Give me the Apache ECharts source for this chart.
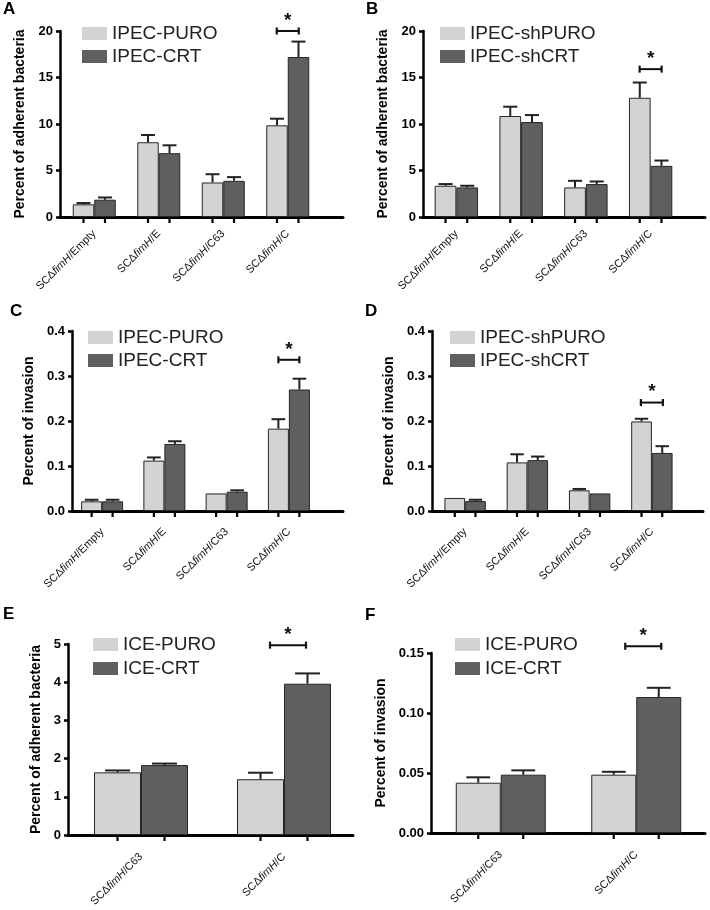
<!DOCTYPE html>
<html><head><meta charset="utf-8">
<script src="https://cdn.jsdelivr.net/npm/echarts@6/dist/echarts.min.js"></script>
<style>
html,body{margin:0;padding:0;background:#fff;}
body{width:710px;height:910px;position:relative;overflow:hidden;}
.p{position:absolute;}
</style>
</head><body>
<div id="pA" class="p" style="left:0;top:0;width:355px;height:300px"></div>
<div id="pB" class="p" style="left:355px;top:0;width:355px;height:300px"></div>
<div id="pC" class="p" style="left:0;top:300px;width:355px;height:300px"></div>
<div id="pD" class="p" style="left:355px;top:300px;width:355px;height:300px"></div>
<div id="pE" class="p" style="left:0;top:600px;width:355px;height:310px"></div>
<div id="pF" class="p" style="left:355px;top:600px;width:355px;height:310px"></div>
<script>
// ---------- DATA ----------
const catsIPEC = ['SCΔfimH/Empty', 'SCΔfimH/E', 'SCΔfimH/C63', 'SCΔfimH/C'];
const catsICE = ['SCΔfimH/C63', 'SCΔfimH/C'];

// Panel A: adherence, IPEC overexpression
const aNames = ['IPEC-PURO', 'IPEC-CRT'];
const aPuro = [1.36, 8.04, 3.71, 9.86];
const aPuroErr = [0.14, 0.78, 0.89, 0.71];
const aCrt = [1.86, 6.86, 3.89, 17.2];
const aCrtErr = [0.24, 0.85, 0.40, 1.66];
const aSig = [[3, 20.0]];
const aTicks = [0, 20, 5];

// Panel B: adherence, IPEC knockdown
const bNames = ['IPEC-shPURO', 'IPEC-shCRT'];
const bPuro = [3.36, 10.86, 3.18, 12.82];
const bPuroErr = [0.18, 1.0, 0.71, 1.64];
const bCrt = [3.18, 10.21, 3.54, 5.5];
const bCrtErr = [0.18, 0.75, 0.28, 0.57];
const bSig = [[3, 15.9]];
const bTicks = [0, 20, 5];

// Panel C: invasion, IPEC overexpression
const cNames = ['IPEC-PURO', 'IPEC-CRT'];
const cPuro = [0.0215, 0.112, 0.039, 0.183];
const cPuroErr = [0.0035, 0.007, 0, 0.021];
const cCrt = [0.0215, 0.149, 0.043, 0.270];
const cCrtErr = [0.0035, 0.006, 0.003, 0.024];
const cSig = [[3, 0.336]];
const cTicks = [0, 0.4, 0.1];

// Panel D: invasion, IPEC knockdown
const dNames = ['IPEC-shPURO', 'IPEC-shCRT'];
const dPuro = [0.029, 0.108, 0.046, 0.199];
const dPuroErr = [0, 0.018, 0.003, 0.006];
const dCrt = [0.022, 0.113, 0.039, 0.129];
const dCrtErr = [0.003, 0.008, 0, 0.015];
const dSig = [[3, 0.241]];
const dTicks = [0, 0.4, 0.1];

// Panel E: adherence, ICE
const eNames = ['ICE-PURO', 'ICE-CRT'];
const ePuro = [1.64, 1.46];
const ePuroErr = [0.05, 0.17];
const eCrt = [1.83, 3.96];
const eCrtErr = [0.04, 0.27];
const eSig = [[1, 4.97]];
const eTicks = [0, 5, 1];

// Panel F: invasion, ICE
const fNames = ['ICE-PURO', 'ICE-CRT'];
const fPuro = [0.0419, 0.0486];
const fPuroErr = [0.0045, 0.0024];
const fCrt = [0.0486, 0.1133];
const fCrtErr = [0.0036, 0.0077];
const fSig = [[1, 0.1556]];
const fTicks = [0, 0.15, 0.05];

// ---------- STYLE ----------
const FONT = '"Liberation Sans", Arial, Helvetica, sans-serif';
const LIGHT = '#d3d3d3', DARK = '#5f5f5f', EDGE = '#262626';

function errSeries(vals, errs, side, bw, capFrac) {
  return {
    type: 'custom', xAxisIndex: 1, yAxisIndex: 1, clip: false, silent: true, z: 5,
    data: vals.map((v, i) => [i, v, v + errs[i]]),
    renderItem: function (params, api) {
      const c0 = api.coord([api.value(0), api.value(1)]);
      const c1 = api.coord([api.value(0), api.value(2)]);
      const base = api.coord([api.value(0), 0]);
      const x = c0[0] + side * bw / 2;
      const hw = bw * capFrac / 2;
      const ch = [{ type: 'line', shape: { x1: x, y1: base[1] + 1, x2: x, y2: base[1] + 6 }, style: { stroke: '#000', lineWidth: 2.2 } }];
      if (api.value(2) > api.value(1)) {
        ch.push({ type: 'line', shape: { x1: x, y1: c0[1], x2: x, y2: c1[1] }, style: { stroke: '#222', lineWidth: 2 } });
        ch.push({ type: 'line', shape: { x1: x - hw, y1: c1[1], x2: x + hw, y2: c1[1] }, style: { stroke: '#222', lineWidth: 2 } });
      }
      return { type: 'group', children: ch };
    }
  };
}

function sigSeries(sig, hw, dx) {
  return {
    type: 'custom', xAxisIndex: 1, yAxisIndex: 1, clip: false, silent: true, z: 6,
    data: sig,
    renderItem: function (params, api) {
      const p = api.coord([api.value(0), api.value(1)]);
      const x = p[0] + dx, y = p[1];
      return { type: 'group', children: [
        { type: 'line', shape: { x1: x - hw, y1: y, x2: x + hw, y2: y }, style: { stroke: '#111', lineWidth: 2 } },
        { type: 'line', shape: { x1: x - hw, y1: y - 3.5, x2: x - hw, y2: y + 3.5 }, style: { stroke: '#111', lineWidth: 2.2 } },
        { type: 'line', shape: { x1: x + hw, y1: y - 3.5, x2: x + hw, y2: y + 3.5 }, style: { stroke: '#111', lineWidth: 2.2 } },
        { type: 'text', style: { x: x, y: y - 1, text: '*', fill: '#111', font: 'bold 19px ' + FONT, textAlign: 'center', textVerticalAlign: 'bottom' } }
      ]};
    }
  };
}

function catLabel(v) {
  const p = v.split('fimH');
  return '{n|' + p[0] + '}{i|fimH}{n|' + p[1] + '}';
}

function panel(id, c) {
  const chart = echarts.init(document.getElementById(id), null, { renderer: 'canvas' });
  const ya = {
    min: c.ticks[0], max: c.ticks[1], interval: c.ticks[2]
  };
  chart.setOption({
    animation: false,
    backgroundColor: '#fff',
    title: { text: c.letter, left: c.letterLeft, top: c.letterTop, padding: 0,
      textStyle: { fontFamily: FONT, fontSize: 17, fontWeight: 'bold', color: '#000' } },
    legend: {
      orient: 'vertical', left: c.legLeft, top: c.legTop, padding: 0,
      itemWidth: 25, itemHeight: 13, itemGap: c.legGap, icon: 'rect',
      itemStyle: { borderWidth: 0 },
      textStyle: { fontFamily: FONT, fontSize: 19, color: '#222', padding: [0, 0, 0, 0] },
      data: c.names, selectedMode: false
    },
    grid: [
      { left: c.axisLeft, right: c.axisRight, top: c.top, bottom: c.bottom, outerBoundsMode: 'none' },
      { left: c.barLeft, width: c.barSpan, top: c.top, bottom: c.bottom, outerBoundsMode: 'none' }
    ],
    xAxis: [
      { type: 'value', gridIndex: 0, min: 0, max: 1, axisLine: { show: true, lineStyle: { color: '#000', width: 3 } },
        axisTick: { show: false }, axisLabel: { show: false }, splitLine: { show: false } },
      { type: 'category', gridIndex: 1, data: c.cats, axisLine: { show: false }, axisTick: { show: false },
        splitLine: { show: false },
        axisLabel: { interval: 0, rotate: 45, margin: c.labMargin, formatter: catLabel, color: '#111',
          rich: { n: { fontFamily: FONT, fontSize: 11, color: '#111' }, i: { fontFamily: FONT, fontSize: 11, fontStyle: 'italic', color: '#111' } } } }
    ],
    yAxis: [
      { type: 'value', gridIndex: 0, min: ya.min, max: ya.max, interval: ya.interval,
        name: c.yName, nameLocation: 'middle', nameGap: c.nameGap,
        nameTextStyle: { fontFamily: FONT, fontSize: 14, fontWeight: 'bold', color: '#000' },
        axisLine: { show: true, lineStyle: { color: '#000', width: 2.5 } },
        axisTick: { show: true, length: 4, lineStyle: { color: '#000', width: 2.5 } },
        axisLabel: { fontFamily: FONT, fontSize: 13, fontWeight: 'bold', color: '#000', margin: 7,
          formatter: v => v.toFixed(c.dec) },
        splitLine: { show: false } },
      { type: 'value', gridIndex: 1, min: ya.min, max: ya.max, interval: ya.interval, show: false, splitLine: { show: false } }
    ],
    series: [
      { name: c.names[0], type: 'bar', xAxisIndex: 1, yAxisIndex: 1, data: c.s1, barWidth: c.bw, barGap: '0%',
        itemStyle: { color: LIGHT, borderColor: EDGE, borderWidth: 1 }, z: 3 },
      { name: c.names[1], type: 'bar', xAxisIndex: 1, yAxisIndex: 1, data: c.s2, barWidth: c.bw, barGap: '0%',
        itemStyle: { color: DARK, borderColor: EDGE, borderWidth: 1 }, z: 3 },
      errSeries(c.s1, c.e1, -1, c.bw, c.capFrac),
      errSeries(c.s2, c.e2, 1, c.bw, c.capFrac),
      sigSeries(c.sig, c.sigHw, c.sigDx)
    ]
  });
}

const adh = 'Percent of adherent bacteria', inv = 'Percent of invasion';
panel('pA', { letter: 'A', letterLeft: 3, letterTop: 1, names: aNames, cats: catsIPEC, s1: aPuro, e1: aPuroErr, s2: aCrt, e2: aCrtErr, sig: aSig,
  ticks: aTicks, dec: 0, yName: adh, nameGap: 21, axisLeft: 60, axisRight: 12, top: 31, bottom: 83, barLeft: 62, barSpan: 258, bw: 21.5,
  capFrac: 0.65, sigHw: 11, sigDx: 0, legLeft: 82, legTop: 24, legGap: 4, labMargin: 15 });
panel('pB', { letter: 'B', letterLeft: 11, letterTop: 1, names: bNames, cats: catsIPEC, s1: bPuro, e1: bPuroErr, s2: bCrt, e2: bCrtErr, sig: bSig,
  ticks: bTicks, dec: 0, yName: adh, nameGap: 21, axisLeft: 68, axisRight: 5, top: 31, bottom: 83, barLeft: 69, barSpan: 259, bw: 21.7,
  capFrac: 0.65, sigHw: 11, sigDx: 0, legLeft: 85, legTop: 24, legGap: 4, labMargin: 15 });
panel('pC', { letter: 'C', letterLeft: 10, letterTop: 3, names: cNames, cats: catsIPEC, s1: cPuro, e1: cPuroErr, s2: cCrt, e2: cCrtErr, sig: cSig,
  ticks: cTicks, dec: 1, yName: inv, nameGap: 33, axisLeft: 72, axisRight: 12, top: 31, bottom: 89, barLeft: 71, barSpan: 249, bw: 21,
  capFrac: 0.65, sigHw: 10.5, sigDx: 0, legLeft: 88, legTop: 28, legGap: 4, labMargin: 19 });
panel('pD', { letter: 'D', letterLeft: 10, letterTop: 3, names: dNames, cats: catsIPEC, s1: dPuro, e1: dPuroErr, s2: dCrt, e2: dCrtErr, sig: dSig,
  ticks: dTicks, dec: 1, yName: inv, nameGap: 28, axisLeft: 77, axisRight: 7, top: 31, bottom: 89, barLeft: 79, barSpan: 249, bw: 20.7,
  capFrac: 0.65, sigHw: 11, sigDx: 0, legLeft: 95, legTop: 28, legGap: 4, labMargin: 19 });
panel('pE', { letter: 'E', letterLeft: 3, letterTop: 6, names: eNames, cats: catsICE, s1: ePuro, e1: ePuroErr, s2: eCrt, e2: eCrtErr, sig: eSig,
  ticks: eTicks, dec: 0, yName: adh, nameGap: 15, axisLeft: 68, axisRight: 2, top: 44, bottom: 75, barLeft: 69.5, barSpan: 286, bw: 47,
  capFrac: 0.53, sigHw: 18, sigDx: 4, legLeft: 93, legTop: 35, legGap: 5, labMargin: 20 });
panel('pF', { letter: 'F', letterLeft: 10, letterTop: 7, names: fNames, cats: catsICE, s1: fPuro, e1: fPuroErr, s2: fCrt, e2: fCrtErr, sig: fSig,
  ticks: fTicks, dec: 2, yName: inv, nameGap: 32, axisLeft: 76, axisRight: 5, top: 53, bottom: 77, barLeft: 78, barSpan: 271, bw: 45,
  capFrac: 0.53, sigHw: 18, sigDx: 7, legLeft: 100, legTop: 35, legGap: 5, labMargin: 20 });
</script>
</body></html>
